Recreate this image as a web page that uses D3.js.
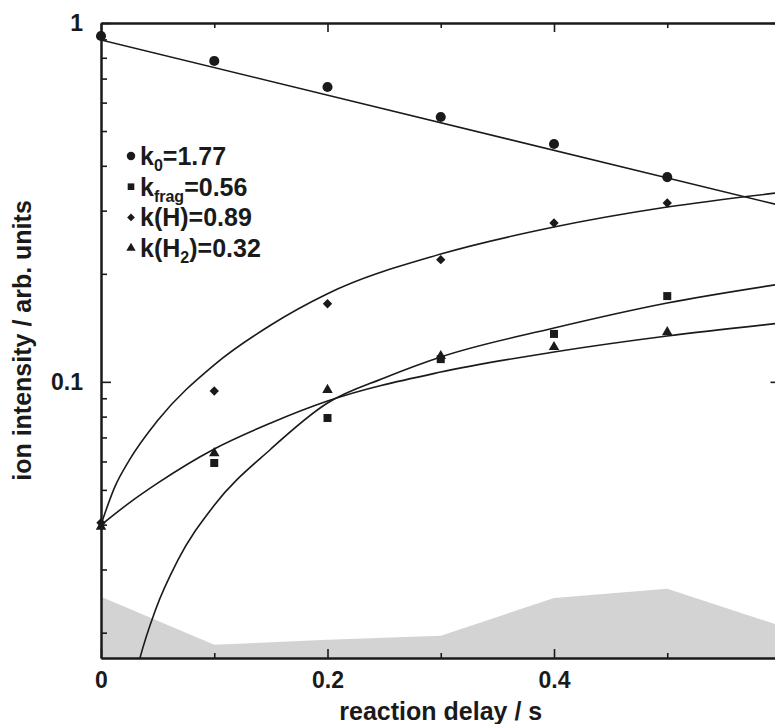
<!DOCTYPE html>
<html>
<head>
<meta charset="utf-8">
<title>Ion intensity vs reaction delay</title>
<script src="https://cdn.jsdelivr.net/npm/d3@7"></script>
<style>
  body { margin: 0; background: #fff; }
  svg { display: block; }
  text { font-family: "Liberation Sans", Arial, sans-serif; font-weight: bold; fill: #1a1a1a; }
</style>
</head>
<body>
<svg id="chart" width="775" height="724"></svg>
<script>
// measured points
const times = [0, 0.1, 0.2, 0.3, 0.4, 0.5];
const k0Points = [0.92, 0.784, 0.663, 0.547, 0.46, 0.372];
const fragPoints = [null, 0.0594, 0.0793, 0.1157, 0.136, 0.1734];
const hPoints = [0.0405, 0.0943, 0.165, 0.219, 0.277, 0.315];
const h2Points = [0.0395, 0.0633, 0.095, 0.118, 0.125, 0.1376];

// fitted curves
const k0FitTimes = [0, 0.6];
const k0Fit = [0.897, 0.31];
const hFitTimes = [0, 0.0125, 0.025, 0.05, 0.1, 0.15, 0.2, 0.3, 0.4, 0.5, 0.6];
const hFit = [0.040, 0.0512, 0.0605, 0.078, 0.1115, 0.144, 0.176, 0.227, 0.270, 0.307, 0.337];
const h2FitTimes = [0, 0.025, 0.05, 0.1, 0.15, 0.2, 0.3, 0.4, 0.5, 0.6];
const h2Fit = [0.0399, 0.046, 0.0522, 0.065, 0.0768, 0.0884, 0.1065, 0.1211, 0.1342, 0.1458];
const fragFitTimes = [0.03, 0.0344, 0.048, 0.068, 0.1, 0.15, 0.2, 0.25, 0.3, 0.4, 0.5, 0.6];
const fragFit = [0.01495, 0.0170, 0.0231, 0.0319, 0.0453, 0.065, 0.0873, 0.1025, 0.1173, 0.1412, 0.1658, 0.1873];

// grey background band
const bandTimes = [0, 0.1, 0.2, 0.3, 0.4, 0.5, 0.6];
const bandValues = [0.0252, 0.0185, 0.0191, 0.0196, 0.025, 0.0265, 0.0209];

// axes
const xMajorTicks = [0, 0.2, 0.4, 0.6];
const xMinorTicks = [0.1, 0.3, 0.5];
const xTickLabels = ["0", "0.2", "0.4", ""];
const yMajorTicks = [0.1, 1];
const yTickLabels = ["0.1", "1"];
const yMinorTicks = [0.02, 0.03, 0.04, 0.05, 0.06, 0.07, 0.08, 0.09, 0.2, 0.3, 0.4, 0.5, 0.6, 0.7, 0.8, 0.9];

const legendLabels = [
  { sym: "circle", k: "k", sub: "0", rest: "=1.77" },
  { sym: "square", k: "k", sub: "frag", rest: "=0.56" },
  { sym: "diamond", k: "k(H)", sub: "", rest: "=0.89" },
  { sym: "triangle", k: "k(H", sub: "2", rest: ")=0.32" }
];

const svg = d3.select("#chart");
const mLeft = 101, mRight = 780.5, mTop = 23, mBottom = 658;

const x = d3.scaleLinear().domain([0, 0.6]).range([mLeft, mRight]);
const y = d3.scaleLog().domain([0.017, 1]).range([mBottom, mTop]);

svg.append("defs").append("clipPath").attr("id", "plotClip")
  .append("rect").attr("x", mLeft).attr("y", mTop)
  .attr("width", mRight - mLeft).attr("height", mBottom - mTop);

// grey area
const band = bandTimes.map((t, i) => ({ t, v: bandValues[i] }));
svg.append("path")
  .datum(band)
  .attr("clip-path", "url(#plotClip)")
  .attr("fill", "#d3d3d3")
  .attr("d", d3.area().x(d => x(d.t)).y0(mBottom).y1(d => y(d.v)));

// fit curves
const fitLine = d3.line().x(d => x(d.t)).y(d => y(d.v)).curve(d3.curveMonotoneX);
const fits = [
  [k0FitTimes, k0Fit],
  [hFitTimes, hFit],
  [h2FitTimes, h2Fit],
  [fragFitTimes, fragFit]
];
const curveG = svg.append("g").attr("clip-path", "url(#plotClip)");
fits.forEach(([ts, vs]) => {
  curveG.append("path")
    .datum(ts.map((t, i) => ({ t, v: vs[i] })))
    .attr("fill", "none")
    .attr("stroke", "#1a1a1a")
    .attr("stroke-width", 1.6)
    .attr("d", fitLine);
});

// axes
function styleAxis(g) {
  g.selectAll("path.domain").attr("stroke", "#1a1a1a").attr("stroke-width", 2);
  g.selectAll(".tick line").attr("stroke", "#1a1a1a").attr("stroke-width", 1.6);
  g.selectAll("text").attr("font-size", 23).attr("fill", "#1a1a1a")
    .attr("font-family", "'Liberation Sans', Arial, sans-serif").attr("font-weight", "bold");
}
const fmtX = d => xTickLabels[xMajorTicks.indexOf(d)];
const fmtY = d => yTickLabels[yMajorTicks.indexOf(d)];

svg.append("g").attr("transform", `translate(0,${mBottom})`)
  .call(d3.axisBottom(x).tickValues(xMajorTicks).tickSize(-9).tickSizeOuter(0).tickPadding(13.5).tickFormat(fmtX))
  .call(styleAxis);
svg.append("g").attr("transform", `translate(0,${mBottom})`)
  .call(d3.axisBottom(x).tickValues(xMinorTicks).tickSize(-5).tickSizeOuter(0).tickFormat(""))
  .call(styleAxis);
svg.append("g").attr("transform", `translate(0,${mTop})`)
  .call(d3.axisTop(x).tickValues(xMajorTicks).tickSize(-9).tickSizeOuter(0).tickFormat(""))
  .call(styleAxis);
svg.append("g").attr("transform", `translate(0,${mTop})`)
  .call(d3.axisTop(x).tickValues(xMinorTicks).tickSize(-5).tickSizeOuter(0).tickFormat(""))
  .call(styleAxis);

svg.append("g").attr("transform", `translate(${mLeft},0)`)
  .call(d3.axisLeft(y).tickValues(yMajorTicks).tickSize(-10).tickSizeOuter(0).tickPadding(18).tickFormat(fmtY))
  .call(styleAxis);
svg.append("g").attr("transform", `translate(${mLeft},0)`)
  .call(d3.axisLeft(y).tickValues(yMinorTicks).tickSize(-6).tickSizeOuter(0).tickFormat(""))
  .call(styleAxis);
svg.append("g").attr("transform", `translate(${mRight},0)`)
  .call(d3.axisRight(y).tickValues(yMajorTicks).tickSize(-10).tickSizeOuter(0).tickFormat(""))
  .call(styleAxis);
svg.append("g").attr("transform", `translate(${mRight},0)`)
  .call(d3.axisRight(y).tickValues(yMinorTicks).tickSize(-5).tickSizeOuter(0).tickFormat(""))
  .call(styleAxis);

// markers
const symbolPath = {
  circle: d3.symbol().type(d3.symbolCircle).size(80)(),
  square: d3.symbol().type(d3.symbolSquare).size(64)(),
  diamond: d3.symbol().type(d3.symbolSquare).size(44)(),
  triangle: d3.symbol().type(d3.symbolTriangle).size(48)()
};
const series = [
  ["circle", k0Points],
  ["square", fragPoints],
  ["diamond", hPoints],
  ["triangle", h2Points]
];
series.forEach(([sym, vals]) => {
  svg.append("g").selectAll("path")
    .data(times.map((t, i) => ({ t, v: vals[i] })).filter(d => d.v != null))
    .join("path")
    .attr("d", symbolPath[sym])
    .attr("fill", "#1a1a1a")
    .attr("transform", d => `translate(${x(d.t)},${y(d.v)})` + (sym === "diamond" ? " rotate(45)" : ""));
});

// legend
const legend = svg.append("g").attr("transform", "translate(131,165)");
legendLabels.forEach((l, i) => {
  const row = legend.append("g").attr("transform", `translate(0,${i * 30.7})`);
  const s = l.sym === "circle" ? 56 : l.sym === "square" ? 44 : l.sym === "diamond" ? 30 : 38;
  const type = l.sym === "circle" ? d3.symbolCircle : l.sym === "triangle" ? d3.symbolTriangle : d3.symbolSquare;
  row.append("path")
    .attr("d", d3.symbol().type(type).size(s)())
    .attr("fill", "#1a1a1a")
    .attr("transform", "translate(0,-9)" + (l.sym === "diamond" ? " rotate(45)" : ""));
  const txt = row.append("text").attr("x", 9).attr("y", 0).attr("font-size", 25);
  txt.append("tspan").text(l.k);
  if (l.sub) txt.append("tspan").attr("font-size", 16).attr("dy", 6).text(l.sub);
  txt.append("tspan").attr("dy", l.sub ? -6 : 0).text(l.rest);
});

// axis titles
svg.append("text")
  .attr("x", (mLeft + mRight) / 2).attr("y", 720)
  .attr("text-anchor", "middle").attr("font-size", 25)
  .text("reaction delay / s");
svg.append("text")
  .attr("transform", `translate(31,${(mTop + mBottom) / 2}) rotate(-90)`)
  .attr("text-anchor", "middle").attr("font-size", 25)
  .text("ion intensity / arb. units");
</script>
</body>
</html>
